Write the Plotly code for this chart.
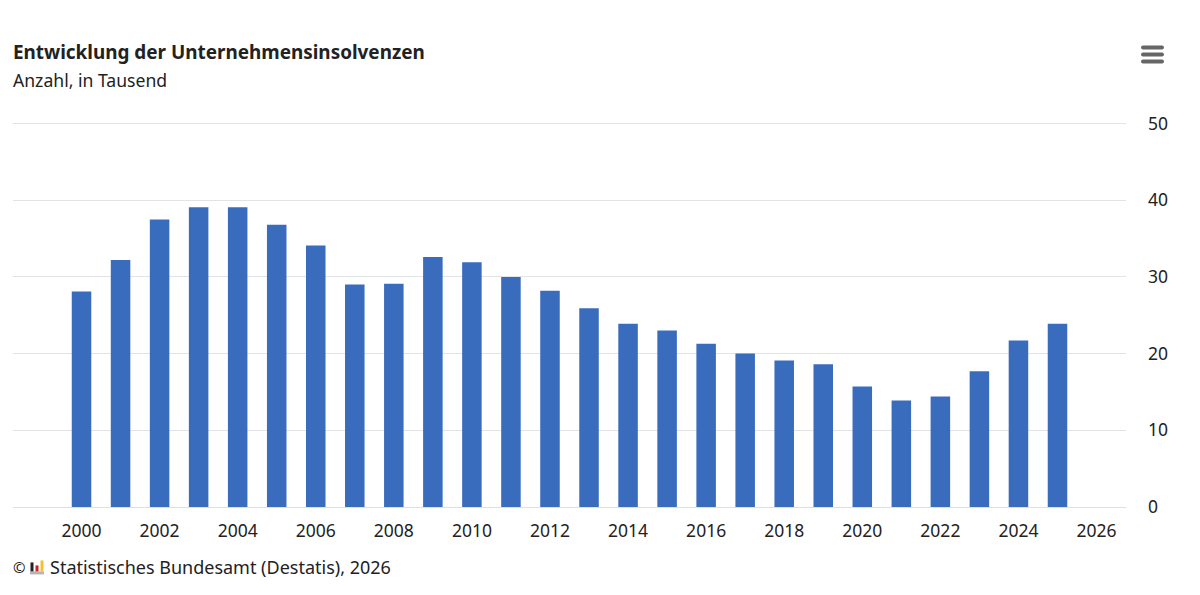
import plotly.graph_objects as go

years = list(range(2000, 2026))
insolvenzen = [28.1, 32.2, 37.5, 39.1, 39.1, 36.8, 34.1, 29.0, 29.1, 32.6, 31.9, 30.0, 28.2,
               25.9, 23.9, 23.0, 21.3, 20.0, 19.1, 18.6, 15.7, 13.9, 14.4, 17.7, 21.7, 23.9]
x_ticks = list(range(2000, 2027, 2))
y_ticks = [0, 10, 20, 30, 40, 50]

FONT = 'Noto Sans'
TEXT = '#222222'

# plot area in pixels, paper coordinates are relative to this box
# the y range ends a bit above 50, plotly drops gridlines within 1px of the edge
Y_MAX = 50.2
LEFT, RIGHT, BOTTOM = 13, 1126, 507.5
TOP = BOTTOM - 384 * Y_MAX / 50


def px(x):
    return (x - LEFT) / (RIGHT - LEFT)


def py(y):
    return (BOTTOM - y) / (BOTTOM - TOP)


def box(x0, y0, x1, y1, color):
    return dict(type='rect', xref='paper', yref='paper', x0=px(x0), x1=px(x1), y0=py(y0), y1=py(y1),
                fillcolor=color, line_width=0, layer='above')


def pill(x0, x1, y, r, color):
    # bar of the menu icon with rounded ends
    path = (f'M {px(x0 + r)} {py(y - r)} L {px(x1 - r)} {py(y - r)} '
            f'Q {px(x1)} {py(y - r)} {px(x1)} {py(y)} Q {px(x1)} {py(y + r)} {px(x1 - r)} {py(y + r)} '
            f'L {px(x0 + r)} {py(y + r)} '
            f'Q {px(x0)} {py(y + r)} {px(x0)} {py(y)} Q {px(x0)} {py(y - r)} {px(x0 + r)} {py(y - r)} Z')
    return dict(type='path', xref='paper', yref='paper', path=path, fillcolor=color, line_width=0, layer='above')


def label(text, x, y, size):
    return dict(text=text, x=px(x), y=py(y), xref='paper', yref='paper', xanchor='left', yanchor='middle',
                xshift=-2, showarrow=False, font=dict(size=size, color=TEXT))


fig = go.Figure(go.Bar(x=years, y=insolvenzen, width=0.5, marker=dict(color='#3a6cbe', line_width=0),
                       hoverinfo='x+y'))

# menu icon and the little logo in the source line
shapes = [pill(1141, 1164, y, 2, '#666666') for y in (47.3, 54.3, 61.3)]
shapes += [box(30, 572, 44, 575, '#b5b5b5'),
           box(30.5, 563, 33.5, 572, '#222222'),
           box(35.5, 566, 38.5, 572, '#c8242b'),
           box(40.5, 561, 43.5, 572, '#f2c230')]

fig.update_layout(
    width=1200, height=595,
    margin=dict(l=LEFT, r=1200 - RIGHT, t=TOP, b=595 - BOTTOM),
    plot_bgcolor='white', paper_bgcolor='white',
    font=dict(family=FONT, size=17.5, color=TEXT),
    showlegend=False,
    shapes=shapes,
    xaxis=dict(range=[1998.245, 2026.755], tickmode='array', tickvals=x_ticks, showgrid=False,
               showline=True, linecolor='#dcdfe3', linewidth=1, ticks='', zeroline=False,
               ticklabelstandoff=8),
    yaxis=dict(range=[0, Y_MAX], tickmode='array', tickvals=y_ticks, side='right', gridcolor='#e1e3e6',
               gridwidth=1, zeroline=False, showline=False, ticks='', ticklabelstandoff=21),
    annotations=[
        label('<b>Entwicklung der Unternehmensinsolvenzen</b>', 13, 52, 18.9),
        label('Anzahl, in Tausend', 13, 79.5, 17.6),
        label('©', 13, 568, 15),
        label('Statistisches Bundesamt (Destatis), 2026', 50, 568, 18),
    ],
)

fig.write_html('out.html', config=dict(displayModeBar=False), post_script='document.body.style.margin = "0";')
